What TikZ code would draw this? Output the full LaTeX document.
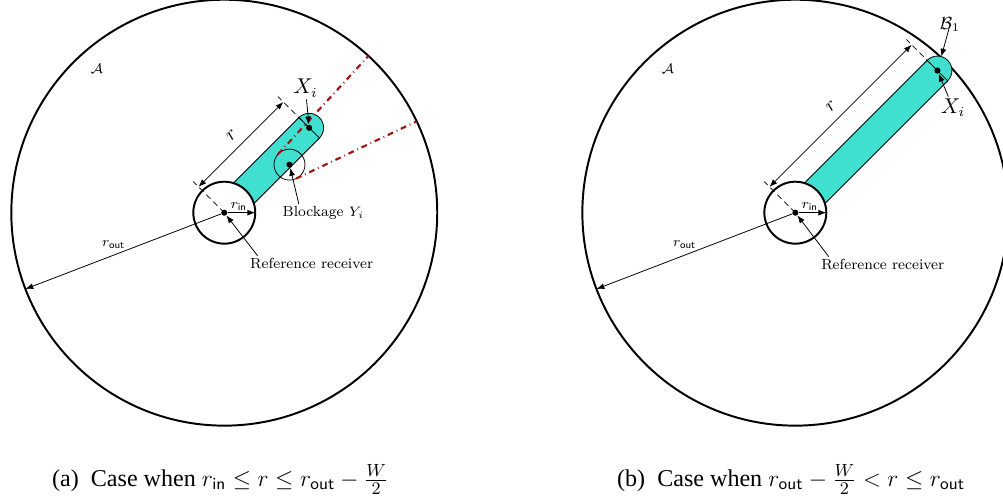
\documentclass[tikz,border=0pt]{standalone}
\usepackage{fontspec}
\newfontfamily\capfont{Liberation Serif}
\usetikzlibrary{arrows.meta, calc}
\definecolor{turq}{RGB}{64,224,208}
\definecolor{dred}{RGB}{160,20,20}

\begin{document}
\begin{tikzpicture}[
  area/.style={circle, draw, line width=1pt, minimum size=7.644cm, inner sep=0pt, outer sep=0pt},
  ring/.style={circle, draw, fill=white, line width=1pt, minimum size=1.112cm, inner sep=0pt, outer sep=0pt},
  endcap/.style={circle, draw, fill=turq, minimum size=0.52cm, inner sep=0pt, outer sep=0pt},
  blk/.style={circle, draw, minimum size=0.556cm, inner sep=0pt},
  dot/.style={circle, fill=black, minimum size=0.11cm, inner sep=0pt},
  lbl/.style={font=\fontsize{7.5}{9}\selectfont, inner sep=1pt},
  big/.style={font=\fontsize{10.5}{12}\selectfont, inner sep=1pt},
  sub/.style={anchor=base west, inner sep=0pt, font=\capfont\fontsize{12.3}{14}\selectfont},
  arr/.style={-{Latex[length=4pt,width=3pt]}, thin},
  dim/.style={{Latex[length=4pt,width=3pt]}-{Latex[length=4pt,width=3pt]}, thin},
  ext/.style={densely dashed, thin},
  los/.style={dash dot, line width=1.1pt, dred}
]
\useasboundingbox (0,0) rectangle (18,8.937);

\begin{scope}[shift={(4.025,5.12)}]
\node[area] (areaA) at (0,0) {};
\node[endcap] (capA) at (45:2.154) {};
\draw[fill=turq, rotate=45] (0,-0.26) rectangle (2.154,0.26);
\node[ring] (ringA) at (0,0) {};
\node[blk] (blkA) at (36.4:1.454) {};
\draw[los] (47.4:1.427) -- (47.4:3.822);
\draw[los] (25.4:1.427) -- (25.4:3.822);
\node[dot] (recA) at (0,0) {};
\node[dot] (xiA) at (45:2.154) {};
\node[dot] (yiA) at (36.4:1.454) {};
\draw[ext] (recA.center) -- ++(135:0.79);
\draw[ext] (xiA.center) -- ++(135:0.79);
\draw[dim] ($(recA)+(135:0.655)$) -- ($(xiA)+(135:0.655)$)
  node[midway, sloped, above=1pt, font=\fontsize{10}{11}\selectfont] {$r$};
\node[lbl] (aA) at (-2.288,2.584) {$\mathcal{A}$};
\node[big] (xlA) at (1.457,2.234) {$X_i$};
\node[lbl] (blA) at (1.780,-0.009) {Blockage $Y_i$};
\node[lbl] (rfA) at (1.568,-0.912) {Reference receiver};
\draw[arr] (xlA) -- (xiA);
\draw[arr] (blA.160) -- (yiA);
\draw[arr] ([xshift=5pt]rfA.north west) -- (recA);
\draw[arr] (recA) -- (ringA.east) node[lbl, pos=0.4, above] {$r_{\mathsf{in}}$};
\draw[arr] (recA) -- (areaA.201.2) node[lbl, pos=0.55, above=2pt] {$r_{\mathsf{out}}$};
\end{scope}

\begin{scope}[shift={(14.273,5.12)}]
\node[area] (areaB) at (0,0) {};
\node[endcap] (capB) at (45:3.607) {};
\draw[fill=turq, rotate=45] (0,-0.26) rectangle (3.607,0.26);
\node[ring] (ringB) at (0,0) {};
\node[dot] (recB) at (0,0) {};
\node[dot] (xiB) at (45:3.607) {};
\draw[ext] (recB.center) -- ++(135:0.79);
\draw[ext] (xiB.center) -- ++(135:0.79);
\draw[dim] ($(recB)+(135:0.655)$) -- ($(xiB)+(135:0.655)$)
  node[midway, sloped, above=1pt, font=\fontsize{10}{11}\selectfont] {$r$};
\node[lbl] (aB) at (-2.288,2.584) {$\mathcal{A}$};
\node[big] (xlB) at (2.830,1.879) {$X_i$};
\node[font=\fontsize{9}{10}\selectfont, inner sep=1pt] (bB) at (2.776,3.369) {$\mathcal{B}_1$};
\node[lbl] (rfB) at (1.568,-0.926) {Reference receiver};
\draw[arr] (xlB) -- (xiB);
\draw[arr] (bB.center) -- (capB);
\draw[arr] ([xshift=5pt]rfB.north west) -- (recB);
\draw[arr] (recB) -- (ringB.east) node[lbl, pos=0.4, above] {$r_{\mathsf{in}}$};
\draw[arr] (recB) -- (areaB.201.2) node[lbl, pos=0.55, above=2pt] {$r_{\mathsf{out}}$};
\end{scope}

\node[sub] (subA) at (0.928,0.215) {(a)\enspace Case when $r_{\mathsf{in}} \le r \le r_{\mathsf{out}} - \frac{W}{2}$};
\node[sub] (subB) at (11.068,0.215) {(b)\enspace Case when $r_{\mathsf{out}} - \frac{W}{2} < r \le r_{\mathsf{out}}$};
\end{tikzpicture}
\end{document}
